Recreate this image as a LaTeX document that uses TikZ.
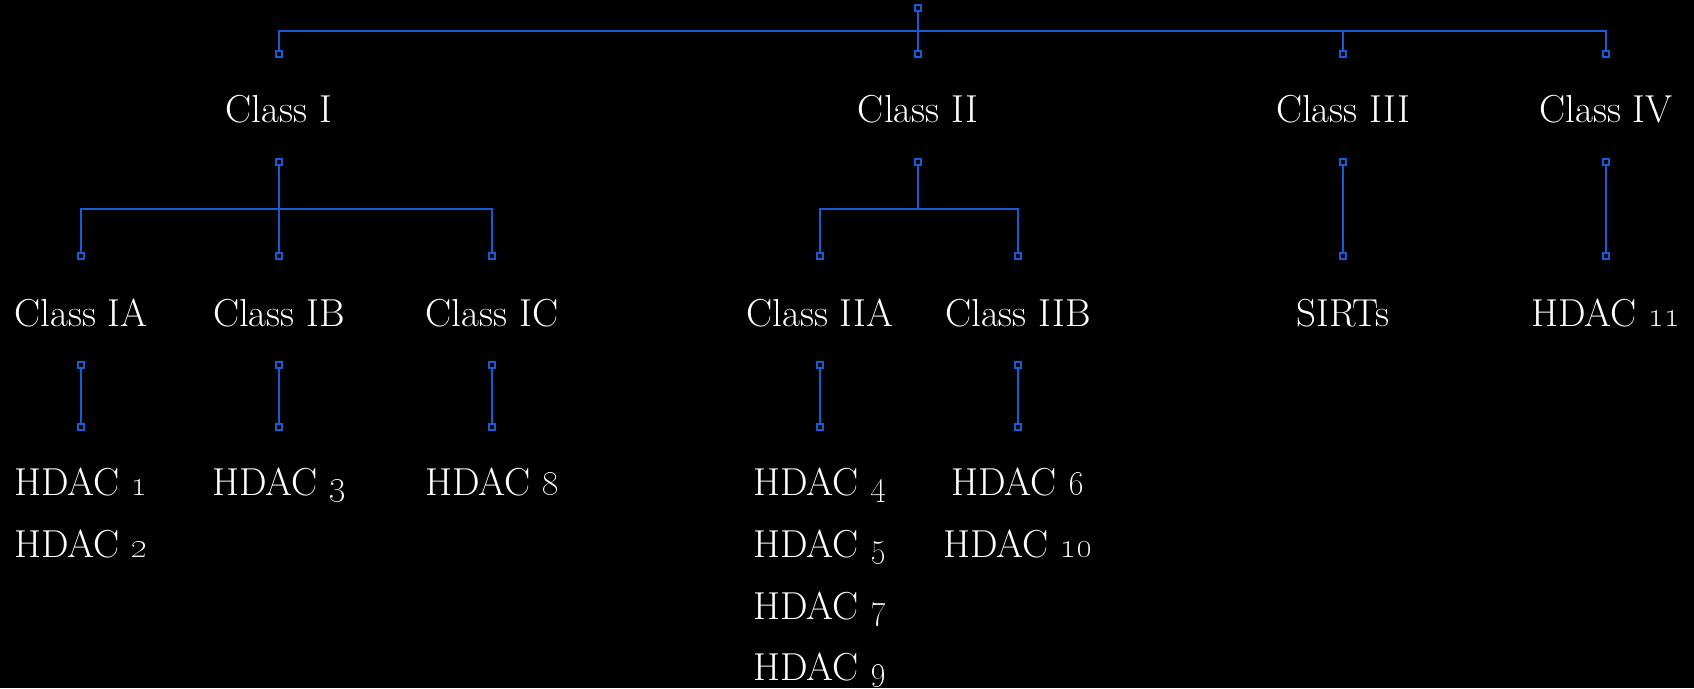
\documentclass[tikz,border=0pt]{standalone}
\usepackage{tikz}
\definecolor{linkblue}{RGB}{22,92,214}

\tikzset{
  port/.style={draw=linkblue, fill=black, line width=1.8pt, minimum size=6.5pt, inner sep=0pt, rectangle},
  link/.style={draw=linkblue, line width=2pt},
  lbl/.style={text=white, anchor=base, inner sep=0pt, font=\fontsize{39}{44}\selectfont}
}

\begin{document}
\begin{tikzpicture}[x=1pt,y=-1pt]
    \fill[black] (0,0) rectangle (1694,688);
    \useasboundingbox (0,0) rectangle (1694,688);

    %Ports
    \node [port] (root) at (918,8) {};
    \node [port] (pI) at (279,54) {};
    \node [port] (pII) at (918,54) {};
    \node [port] (pIII) at (1343,54) {};
    \node [port] (pIV) at (1606,54) {};
    \node [port] (qI) at (279,162) {};
    \node [port] (qII) at (918,162) {};
    \node [port] (qIII) at (1343,162) {};
    \node [port] (qIV) at (1606,162) {};
    \node [port] (pIA) at (81,256) {};
    \node [port] (pIB) at (279,256) {};
    \node [port] (pIC) at (492,256) {};
    \node [port] (pIIA) at (820,256) {};
    \node [port] (pIIB) at (1018,256) {};
    \node [port] (pSIRT) at (1343,256) {};
    \node [port] (pHD11) at (1606,256) {};
    \node [port] (qIA) at (81,365) {};
    \node [port] (qIB) at (279,365) {};
    \node [port] (qIC) at (492,365) {};
    \node [port] (qIIA) at (820,365) {};
    \node [port] (qIIB) at (1018,365) {};
    \node [port] (hIA) at (81,427) {};
    \node [port] (hIB) at (279,427) {};
    \node [port] (hIC) at (492,427) {};
    \node [port] (hIIA) at (820,427) {};
    \node [port] (hIIB) at (1018,427) {};

    \coordinate (topbus) at (0,31);
    \coordinate (subbus) at (0,209);

    %Top
    \draw [link] (root) -- (root |- topbus) -| (pI);
    \draw [link] (root |- topbus) -| (pIII);
    \draw [link] (root |- topbus) -| (pIV);
    \draw [link] (root) -- (pII);

    %Class I and II
    \draw [link] (qI) -- (qI |- subbus) -| (pIA);
    \draw [link] (qI |- subbus) -| (pIC);
    \draw [link] (qI) -- (pIB);
    \draw [link] (qII) -- (qII |- subbus) -| (pIIA);
    \draw [link] (qII |- subbus) -| (pIIB);

    %Single
    \draw [link] (qIII) -- (pSIRT);
    \draw [link] (qIV) -- (pHD11);
    \draw [link] (qIA) -- (hIA);
    \draw [link] (qIB) -- (hIB);
    \draw [link] (qIC) -- (hIC);
    \draw [link] (qIIA) -- (hIIA);
    \draw [link] (qIIB) -- (hIIB);

    %Labels
    \node [lbl] (cI) at (279,122) {Class I};
    \node [lbl] (cII) at (918,122) {Class II};
    \node [lbl] (cIII) at (1343,122) {Class III};
    \node [lbl] (cIV) at (1606,122) {Class IV};
    \node [lbl] (cIA) at (81,326) {Class IA};
    \node [lbl] (cIB) at (279,326) {Class IB};
    \node [lbl] (cIC) at (492,326) {Class IC};
    \node [lbl] (cIIA) at (820,326) {Class IIA};
    \node [lbl] (cIIB) at (1018,326) {Class IIB};
    \node [lbl] (sirt) at (1343,326) {SIRTs};
    \node [lbl] (h11) at (1606,326) {HDAC \oldstylenums{11}};
    \node [lbl] (h1) at (81,495) {HDAC \oldstylenums{1}};
    \node [lbl] (h2) at (81,557) {HDAC \oldstylenums{2}};
    \node [lbl] (h3) at (279,495) {HDAC \oldstylenums{3}};
    \node [lbl] (h8) at (492,495) {HDAC \oldstylenums{8}};
    \node [lbl] (h4) at (820,495) {HDAC \oldstylenums{4}};
    \node [lbl] (h5) at (820,557) {HDAC \oldstylenums{5}};
    \node [lbl] (h7) at (820,619) {HDAC \oldstylenums{7}};
    \node [lbl] (h9) at (820,680) {HDAC \oldstylenums{9}};
    \node [lbl] (h6) at (1018,495) {HDAC \oldstylenums{6}};
    \node [lbl] (h10) at (1018,557) {HDAC \oldstylenums{10}};
\end{tikzpicture}
\end{document}
